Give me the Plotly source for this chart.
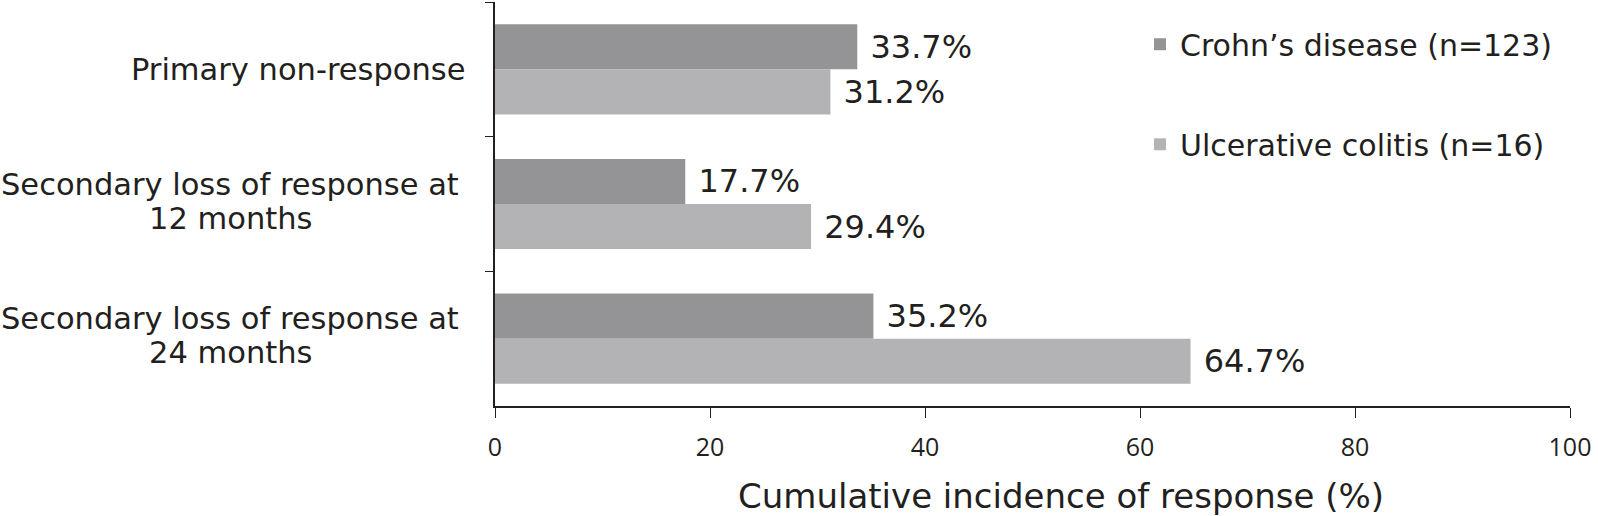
import plotly.graph_objects as go

categories = ["Primary non-response",
              "Secondary loss of response at<br>12 months",
              "Secondary loss of response at<br>24 months"]
crohns = [33.7, 17.7, 35.2]
uc = [31.2, 29.4, 64.7]
series_names = ["Crohn’s disease (n=123)", "Ulcerative colitis (n=16)"]
x_ticks = [0, 20, 40, 60, 80, 100]
x_title = "Cumulative incidence of response (%)"

TXT = "#231f20"
FONT = "DejaVu Sans, Verdana, sans-serif"
TICKF = "Open Sans, sans-serif"

fig = go.Figure()
for name, vals, col, grp in [(series_names[0], crohns, "#949497", "a"),
                             (series_names[1], uc, "#b3b3b5", "b")]:
    fig.add_trace(go.Bar(
        y=categories, x=vals, orientation="h", name=name,
        marker=dict(color=col, line=dict(width=0)),
        text=[f" {v:.1f}%" for v in vals], textposition="outside",
        textfont=dict(family=FONT, size=32, color=TXT),
        cliponaxis=False, legendgroup=grp,
    ))

# category labels: lines placed separately for tighter line spacing
LINE_GAP = 34
for c in categories:
    lines = c.split("<br>")
    n = len(lines)
    for i, ln in enumerate(lines):
        off = (i - (n - 1) / 2) * LINE_GAP
        if n == 1:
            anchor, xs, ys = "right", -28, 0
        else:
            anchor, xs, ys = "center", -265, 3
        fig.add_annotation(x=0, xref="paper", y=c, yref="y", text=ln,
                           showarrow=False, xanchor=anchor, xshift=xs,
                           yshift=ys - off,
                           font=dict(family=FONT, size=30.5, color=TXT))

fig.add_annotation(x=0.5, xref="paper", y=0, yref="paper", text=x_title,
                   showarrow=False, xanchor="center", yanchor="middle",
                   xshift=28, yshift=-90,
                   font=dict(family=FONT, size=34, color=TXT))

fig.update_layout(
    width=1598, height=516,
    margin=dict(l=495, r=28, t=2, b=110),
    paper_bgcolor="white", plot_bgcolor="white",
    barmode="group", bargap=0.33, bargroupgap=0,
    showlegend=True,
    legend=dict(x=0.6, y=0.96, xanchor="left", yanchor="top",
                font=dict(family=FONT, size=30, color=TXT),
                tracegroupgap=58, traceorder="grouped",
                bgcolor="rgba(0,0,0,0)", itemwidth=30),
    xaxis=dict(range=[0, 100], tickvals=x_ticks, showgrid=False, zeroline=False,
               showline=True, linecolor="#231f20", linewidth=1.5,
               ticks="outside", ticklen=10, tickwidth=1.2, tickcolor="#231f20",
               ticklabelstandoff=8,
               tickfont=dict(family=TICKF, size=25, color=TXT)),
    yaxis=dict(autorange="reversed", showgrid=False, zeroline=False,
               showline=True, linecolor="#231f20", linewidth=1.5,
               ticks="outside", ticklen=8, tickwidth=1.2, tickcolor="#231f20",
               tickson="boundaries", showticklabels=False),
)

post = "document.body.style.margin='0';document.body.style.overflow='hidden';"
fig.write_html("out.html", config={"displayModeBar": False}, post_script=post)
